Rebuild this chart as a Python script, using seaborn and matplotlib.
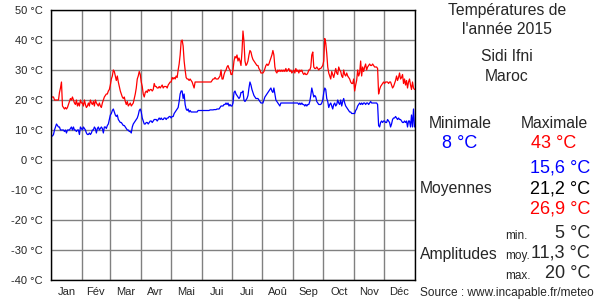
import matplotlib
matplotlib.use("Agg")
import matplotlib.pyplot as plt
import numpy as np
import pandas as pd
import seaborn as sns

# ---------------- data ----------------
month_labels = ["Jan", "Fév", "Mar", "Avr", "Mai", "Jui", "Jui", "Aoû", "Sep", "Oct", "Nov", "Déc"]
month_days = [31, 28, 31, 30, 31, 30, 31, 31, 30, 31, 30, 31]

tmax_jan = [21, 21, 21, 20, 20, 20, 20, 20, 22.5, 24, 26, 18, 17.5, 17, 17.5, 17, 17.5, 18.5, 19.5, 20.5,
            20, 21, 20, 19, 18.5, 20, 18, 19, 18, 20, 19]
tmax_feb = [19, 18, 20, 18.5, 17.5, 18, 19, 18, 20, 19, 18.5, 19.5, 18, 20, 19, 18.5, 18, 19, 18, 17.5,
            19, 20, 21, 21.5, 22, 22, 23, 23.5]
tmax_mar = [25, 27, 28, 30, 29.5, 28, 26.5, 28, 26, 24.5, 23, 22, 21, 20.5, 21, 19.5, 18.5, 19.5, 18, 18.5,
            19, 18, 18.5, 19, 20.5, 22, 24, 27, 28, 29.5, 28.5]
tmax_apr = [26, 24.5, 22, 21, 22.5, 23, 22.5, 23.5, 23, 23.5, 23.5, 23, 23.5, 25.5, 24.5, 24.5, 24, 24, 24.5, 24,
            24.5, 25, 24, 24.5, 24.5, 24.5, 24, 25, 25.5, 26]
tmax_may = [26, 27.5, 27, 27.5, 27, 28, 27.5, 30, 32, 35, 39.5, 40, 38, 33, 30, 27.5, 27, 27, 26.5, 27,
            26.5, 26, 25, 24, 26, 26, 26, 26, 26, 26, 26]
tmax_jun = [26, 26, 26, 26, 26, 26, 26, 26, 26, 26, 26.5, 27, 27, 27.5, 27, 27, 27, 27.5, 28, 30,
            27, 27, 28.5, 29.5, 30, 31, 31.5, 30.5, 30, 28.5]
tmax_jul = [28.5, 30, 33, 34.5, 34, 35, 33, 34, 33, 31.5, 36, 43, 39.5, 33, 31.5, 32, 33, 35, 36.5, 36,
            34.5, 33.5, 33, 32.5, 32, 31.5, 31.5, 30.5, 30, 29, 29]
tmax_aug = [29, 29.5, 30.5, 31.5, 32, 31.5, 32, 33, 34, 35, 36.5, 35, 31, 29.5, 29, 30, 29.5, 30, 29.5, 30,
            29.5, 30, 29.5, 30.5, 29.5, 30, 30.5, 29.5, 30, 29, 29.5]
tmax_sep = [30, 29, 30.5, 29.5, 30, 29, 30, 29.5, 30, 29, 28.5, 29, 28.5, 28.5, 29, 30, 30, 31, 35, 36,
            31, 30.5, 30.5, 31, 30.5, 30, 30.5, 30.5, 31, 31.5]
tmax_oct = [33, 40.5, 39, 35.5, 31, 29, 28, 27, 29.5, 28.5, 27.5, 29, 30.5, 29, 28.5, 31, 30, 29.5, 28, 27.5,
            30, 28.5, 28, 29, 28, 27.5, 27, 26, 25.5, 25.5, 27]
tmax_nov = [23, 25, 26.5, 30, 28, 29, 33, 28, 31, 29.5, 31, 32, 30, 31, 31.5, 32, 31.5, 31.5, 32, 31.5,
            31, 31, 31, 30.5, 22, 23.5, 24.5, 25, 25.5, 26]
tmax_dec = [25.5, 26, 26, 26, 25.5, 26, 26, 25, 24, 24.5, 25.5, 26.5, 28, 26.5, 27.5, 29, 27, 27.5, 28.5, 25.5,
            27, 25, 26.5, 24, 26, 27, 25, 23.5, 26, 24, 23.5]

tmin_jan = [8, 8, 8.5, 10, 11, 12, 11.5, 11, 11, 10, 10, 10, 10, 9.5, 10, 9, 10, 10, 10, 10.5,
            11, 10, 11, 10, 10, 9.5, 10, 10, 8.5, 11, 10.5]
tmin_feb = [10, 11, 10.5, 10, 9, 8.5, 8.5, 9, 8.5, 9, 10, 10, 11, 10.5, 9, 10.5, 11, 10, 10.5, 11,
            10.5, 9, 11, 11, 10.5, 11.5, 12, 13.5]
tmin_mar = [15, 15.5, 16.5, 17, 16, 15, 14.5, 15, 13.5, 13, 12.5, 12.5, 12, 11.5, 11.5, 11, 10.5, 10, 10, 9.5,
            9.5, 9, 11, 12, 12.5, 13, 13.5, 14, 15, 16.5, 17]
tmin_apr = [16, 14, 13, 12, 12, 12.5, 12.5, 12, 12.5, 13, 13, 12.5, 13, 13.5, 13.5, 13.5, 13, 13.5, 14, 13.5,
            14, 13.5, 13.5, 14, 14, 13.5, 14, 14, 14.5, 14.5]
tmin_may = [14, 14.5, 14.5, 15.5, 16, 16.5, 17, 17.5, 19.5, 22, 23, 23, 20.5, 22, 18.5, 17, 16.5, 17, 16, 16.5,
            16, 16, 16, 16, 16, 16, 16, 16.5, 16.5, 16.5, 16.5]
tmin_jun = [16.5, 16.5, 16.5, 16.5, 16.5, 16.5, 16.5, 16.5, 16.7, 16.7, 16.7, 16.7, 16.8, 16.8, 16.8, 17, 17, 17,
            17.5, 18, 18, 18, 18.5, 18.5, 19, 18.5, 19, 18, 18.5, 18]
tmin_jul = [18, 19, 22.5, 23, 22, 21.5, 21, 20.5, 21, 22.5, 22.5, 23, 20, 19.5, 20, 20.5, 21.5, 24, 26, 25,
            23.5, 22.5, 21.5, 21, 20.5, 20.5, 20.5, 20, 19.5, 19, 19]
tmin_aug = [19, 20, 21, 21.5, 22, 22.5, 23, 23.5, 24, 23, 22.5, 24, 22, 20, 19.5, 19, 18.5, 18, 19, 19,
            19, 19, 19, 19, 19, 19, 19, 19, 19, 19, 19]
tmin_sep = [19, 19, 19, 19, 19, 18.5, 19, 18.5, 19, 18.5, 18.5, 18, 18.5, 18, 18.5, 18.5, 19.5, 21.5, 24, 22.5,
            21, 21.5, 21, 19.5, 19, 18.5, 18.5, 18.5, 19, 20]
tmin_oct = [22.5, 24, 23.5, 20.5, 19.5, 17.5, 18.5, 19, 18, 17, 18.5, 19, 18, 18.5, 20, 19, 18.5, 20, 18, 19.5,
            20.5, 19, 18, 17.5, 17, 16.5, 16, 16, 15.5, 15.5, 15.5]
tmin_nov = [15.5, 16.5, 17, 18, 18.5, 19, 18.5, 19, 18.5, 19, 19, 18.5, 19, 19, 18.5, 19, 19.5, 19, 19, 19,
            19, 19, 19, 18.5, 11.5, 11, 12.5, 13, 12.5, 13]
tmin_dec = [13, 12.5, 12.5, 13.5, 13, 12.5, 11, 12, 13.5, 14, 14, 14.5, 14, 13.5, 14, 13.5, 13.5, 13, 12.5, 12.5,
            13, 12.5, 13, 11, 13, 13, 11, 15, 11, 17, 11]

y_ticks = [50, 40, 30, 20, 10, 0, -10, -20, -30, -40]

title_lines = ["Températures de", "l'année 2015"]
place_lines = ["Sidi Ifni", "Maroc"]
stat_min, stat_max = "8 °C", "43 °C"
mean_min, mean_all, mean_max = "15,6 °C", "21,2 °C", "26,9 °C"
amp_min, amp_moy, amp_max = "5 °C", "11,3 °C", "20 °C"
source = "Source : www.incapable.fr/meteo"

tmax = (tmax_jan + tmax_feb + tmax_mar + tmax_apr + tmax_may + tmax_jun +
        tmax_jul + tmax_aug + tmax_sep + tmax_oct + tmax_nov + tmax_dec)
tmin = (tmin_jan + tmin_feb + tmin_mar + tmin_apr + tmin_may + tmin_jun +
        tmin_jul + tmin_aug + tmin_sep + tmin_oct + tmin_nov + tmin_dec)

n = len(tmax)
df = pd.DataFrame({"day": np.arange(n) + 0.5, "tmax": tmax, "tmin": tmin})

# ---------------- style ----------------
sns.set_theme(style="white")
plt.rcParams["font.family"] = ["Liberation Sans", "DejaVu Sans"]

W, H = 600, 300
fig = plt.figure(figsize=(6, 3), dpi=100)
ax = fig.add_axes([51 / W, 1 - 280 / H, (415 - 51) / W, (280 - 10) / H])

sns.lineplot(data=df, x="day", y="tmax", ax=ax, color="#ff0000", lw=0.9, estimator=None)
sns.lineplot(data=df, x="day", y="tmin", ax=ax, color="#0000ff", lw=0.9, estimator=None)

bounds = np.concatenate([[0], np.cumsum(month_days)])
mids = (bounds[:-1] + bounds[1:]) / 2
ax.set_xlim(0, bounds[-1])
ax.set_ylim(-40, 50)
ax.set_xticks(bounds)
ax.set_xticklabels([""] * len(bounds))
ax.set_xticks(mids, minor=True)
ax.set_xticklabels(month_labels, minor=True, fontsize=8)
ax.set_yticks(y_ticks)
ax.set_yticklabels([f"{v} °C" for v in y_ticks], fontsize=8)
ax.tick_params(axis="both", which="both", length=0)
ax.tick_params(axis="x", which="minor", pad=5)
ax.tick_params(axis="y", pad=6)
ax.grid(True, which="major", color="#808080", lw=1)
ax.set_axisbelow(True)
ax.set_xlabel("")
ax.set_ylabel("")
for s in ax.spines.values():
    s.set_color("black")
    s.set_linewidth(1)
    s.set_visible(True)


def T(x, y, s, **kw):
    kw.setdefault("va", "center")
    fig.text(x / W, 1 - y / H, s, **kw)


big = 13
mid = 11.3
small = 8.5

T(507, 10, title_lines[0], ha="center", fontsize=11.3)
T(507, 29, title_lines[1], ha="center", fontsize=11.3)
T(507, 57, place_lines[0], ha="center", fontsize=11.3)
T(507, 76, place_lines[1], ha="center", fontsize=11.3)

T(460, 124, "Minimale", ha="center", fontsize=mid)
T(554, 124, "Maximale", ha="center", fontsize=mid)
T(460, 144, stat_min, ha="center", fontsize=big, color="#0000ff")
T(554, 144, stat_max, ha="center", fontsize=big, color="#ff0000")

T(590, 168, mean_min, ha="right", fontsize=big, color="#0000ff")
T(420, 189, "Moyennes", ha="left", fontsize=mid)
T(590, 189, mean_all, ha="right", fontsize=big, color="black")
T(590, 209, mean_max, ha="right", fontsize=big, color="#ff0000")

T(505, 236, "min.", ha="left", fontsize=small)
T(590, 233, amp_min, ha="right", fontsize=big)
T(420, 254, "Amplitudes", ha="left", fontsize=mid)
T(505, 256, "moy.", ha="left", fontsize=small)
T(590, 253, amp_moy, ha="right", fontsize=big)
T(505, 276, "max.", ha="left", fontsize=small)
T(590, 273, amp_max, ha="right", fontsize=big)

T(420, 293, source, ha="left", fontsize=8.6)

fig.savefig("out.png", dpi=100)
